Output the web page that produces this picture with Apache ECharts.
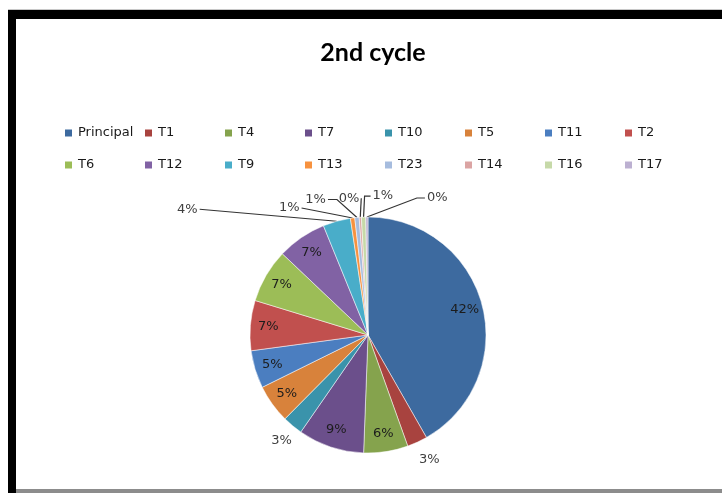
<!DOCTYPE html>
<html>
<head>
<meta charset="utf-8">
<title>2nd cycle</title>
<script src="https://cdn.jsdelivr.net/npm/echarts@6/dist/echarts.min.js"></script>
<style>
    html, body { margin: 0; padding: 0; background: #fff; }
    #chart { width: 722px; height: 493px; }
</style>
</head>
<body>
<div id="chart"></div>
<script>
// slices in the order they go round, clockwise from 12 o'clock
var names = ['Principal', 'T1', 'T4', 'T7', 'T10', 'T5', 'T11', 'T2',
             'T6', 'T12', 'T9', 'T13', 'T23', 'T14', 'T16', 'T17'];
// share of each slice in percent
var shares = [42, 2.8, 6.1, 9.1, 2.8, 5.3, 5.2, 6.9,
              7.4, 6.8, 3.8, 0.6, 0.6, 0.3, 0.6, 0.3];
var legendRow1 = names.slice(0, 8);
var legendRow2 = names.slice(8);

var colors = ['#3d6a9f', '#a8433f', '#85a34d', '#6b4f8b', '#3a93ab', '#d8823b', '#4b7ec0', '#c1504e',
              '#9cbd57', '#8162a4', '#49adc9', '#f7923f', '#a6bcde', '#dba4a3', '#c6d9a8', '#bcb0d1'];

// outside labels: offsets from the point where the slice meets the rim
var outsideSpots = {
    T1:  { end: [12, 17], align: 'center', noLine: true },
    T10: { end: [-11, 15], align: 'center', noLine: true },
    T9:  { elbow: [-137, -12], end: [-137, -12], align: 'right' },
    T13: { elbow: [-51, -10], end: [-51, -10], align: 'right' },
    T23: { elbow: [-20, -18], end: [-29, -18], align: 'right' },
    T14: { elbow: [1, -19], end: [1, -19], align: 'right' },
    T16: { elbow: [1, -21], end: [7, -21], align: 'left' },
    T17: { elbow: [50, -19], end: [58, -19], align: 'left' }
};

var myChart = echarts.init(document.getElementById('chart'));

var sliceData = names.map(function (n, i) {
    return { name: n, value: shares[i] };
});

var labelData = names.map(function (n, i) {
    var item = { name: n, value: shares[i] };
    var spot = outsideSpots[n];
    if (spot) {
        item.label = { position: 'outside', color: '#404040' };
        item.labelLine = {
            show: true,
            lineStyle: { color: '#333333', width: 1.2, opacity: spot.noLine ? 0 : 1 }
        };
    }
    return item;
});

function placeLabel(params) {
    if (params.seriesIndex !== 1) return;
    var spot = outsideSpots[names[params.dataIndex]];
    if (!spot || !params.labelLinePoints) return;
    var p0 = [params.labelLinePoints[0][0], params.labelLinePoints[0][1]];
    var end = [p0[0] + spot.end[0], p0[1] + spot.end[1]];
    var gap = spot.align === 'right' ? -2 : (spot.align === 'left' ? 2 : 0);
    var out = { x: end[0] + gap, y: end[1], align: spot.align, verticalAlign: 'middle' };
    if (spot.elbow) {
        out.labelLinePoints = [p0, [p0[0] + spot.elbow[0], p0[1] + spot.elbow[1]], end];
    } else {
        out.labelLinePoints = [p0, p0, p0];
    }
    return out;
}

var legendText = { fontFamily: 'DejaVu Sans', fontSize: 13, color: '#1a1a1a', width: 60, lineHeight: 16 };

var option = {
    animation: false,
    color: colors,
    title: {
        text: '2nd cycle',
        left: 368,
        textAlign: 'center',
        top: 35,
        textStyle: { fontFamily: 'Lato', fontWeight: 'bold', fontSize: 25, color: '#000' }
    },
    legend: [
        {
            data: legendRow1, left: 58, top: 120, itemGap: 5,
            itemWidth: 9, itemHeight: 9, icon: 'rect', textStyle: legendText
        },
        {
            data: legendRow2, left: 58, top: 152, itemGap: 5,
            itemWidth: 9, itemHeight: 9, icon: 'rect', textStyle: legendText
        }
    ],
    graphic: [
        { type: 'rect', shape: { x: 8, y: 9, width: 714, height: 1 }, style: { fill: '#c8c8c8' }, silent: true },
        { type: 'rect', shape: { x: 8, y: 10, width: 714, height: 9 }, style: { fill: '#000' }, silent: true },
        { type: 'rect', shape: { x: 8, y: 10, width: 8, height: 483 }, style: { fill: '#000' }, silent: true },
        { type: 'rect', shape: { x: 16, y: 489, width: 706, height: 4 }, style: { fill: '#8c8c8c' }, silent: true }
    ],
    series: [
        {
            name: 'slices',
            type: 'pie',
            center: [368, 335],
            radius: 118,
            startAngle: 90,
            silent: true,
            label: { show: false },
            labelLine: { show: false },
            itemStyle: { borderColor: '#ffffff', borderWidth: 0.5 },
            emphasis: { disabled: true },
            data: sliceData
        },
        {
            name: 'labels',
            type: 'pie',
            center: [368, 335],
            radius: [76, 118],
            startAngle: 90,
            silent: true,
            avoidLabelOverlap: false,
            itemStyle: { color: 'rgba(0,0,0,0)' },
            emphasis: { disabled: true },
            label: {
                show: true,
                position: 'inside',
                fontFamily: 'DejaVu Sans',
                fontSize: 13,
                color: '#1c1c1c',
                formatter: function (p) { return Math.round(p.percent) + '%'; }
            },
            labelLine: { show: false, length: 10, length2: 0 },
            labelLayout: placeLabel,
            data: labelData
        }
    ]
};

myChart.setOption(option);
</script>
</body>
</html>
